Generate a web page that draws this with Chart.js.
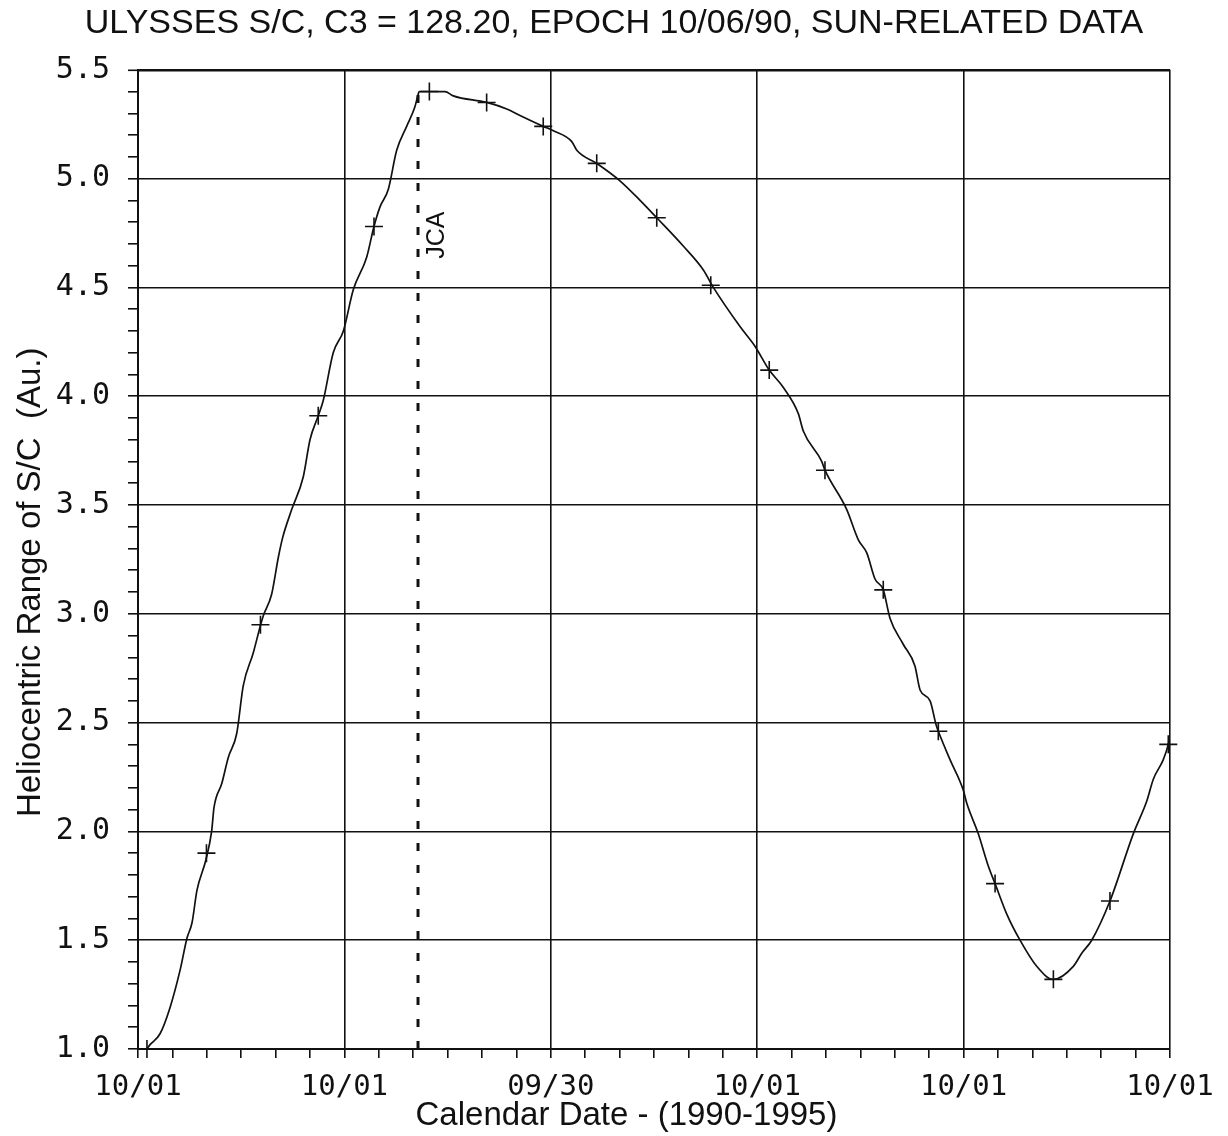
<!DOCTYPE html>
<html>
<head>
<meta charset="utf-8">
<script src="https://cdn.jsdelivr.net/npm/chart.js@4.4.1/dist/chart.umd.min.js"></script>
<style>
  html, body { margin: 0; padding: 0; background: #fff; }
  #wrap { width: 1228px; height: 1136px; }
</style>
</head>
<body>
<div id="wrap"><canvas id="c" width="1228" height="1136"></canvas></div>
<script>
// ---- Data (x = months since 10/01/90, y = heliocentric range in AU) ----
const curveMonths = [0.51,0.70,1.28,1.86,2.44,2.85,3.14,3.43,3.95,4.28,4.42,4.87,5.25,5.74,6.12,6.70,7.13,7.28,7.77,8.16,8.41,8.94,9.61,10.0,10.48,10.77,11.35,11.94,12.52,13.30,13.72,14.07,14.55,15.04,15.62,16.10,16.30,16.35,16.94,17.85,18.33,20.27,21.44,22.21,23.56,24.15,25.22,25.51,26.67,28.02,29.19,30.16,31.70,32.87,33.45,35.0,35.87,36.70,37.52,38.39,38.68,39.75,39.94,41.20,41.88,42.37,42.85,43.33,43.72,44.49,45.17,45.47,46.05,46.40,46.53,47.21,47.98,48.18,48.85,49.44,49.83,50.51,51.28,52.25,53.22,54.38,54.87,55.45,56.51,57.87,58.65,59.03,59.61,59.90,60.0];
const curveAU = [1.00,1.02,1.07,1.19,1.36,1.51,1.58,1.73,1.87,2.00,2.11,2.22,2.34,2.45,2.67,2.82,2.95,2.99,3.09,3.26,3.35,3.48,3.63,3.80,3.91,3.98,4.20,4.30,4.49,4.64,4.78,4.87,4.95,5.13,5.24,5.33,5.39,5.40,5.40,5.40,5.38,5.35,5.32,5.29,5.24,5.22,5.17,5.13,5.07,4.99,4.90,4.82,4.69,4.58,4.50,4.32,4.23,4.12,4.04,3.92,3.84,3.70,3.66,3.48,3.34,3.28,3.16,3.11,2.98,2.86,2.76,2.65,2.60,2.49,2.46,2.33,2.19,2.13,1.99,1.84,1.76,1.62,1.50,1.38,1.32,1.38,1.44,1.50,1.68,1.99,2.14,2.24,2.33,2.40,2.44];

const markerMonths = [0.52,3.98,7.12,10.48,13.72,16.94,20.27,23.56,26.67,30.16,33.30,36.70,39.94,43.33,46.53,49.83,53.22,56.51,59.90];
const markerAU     = [1.00,1.90,2.95,3.91,4.78,5.40,5.35,5.24,5.07,4.82,4.51,4.12,3.66,3.11,2.46,1.76,1.32,1.68,2.40];

const jcaMonth = 16.28;
const jcaSpanAU = [1.0, 5.44];
const jcaLabel = 'JCA';
const jcaLabelAU = 4.74;

const xTickMonths = [0, 12, 24, 36, 48, 60];
const xTickLabels = ['10/01', '10/01', '09/30', '10/01', '10/01', '10/01'];
const xMinorStep = 2;      // months between small tick marks
const yMinorStep = 0.1;    // AU between small tick marks
const yMin = 1.0, yMax = 5.5;

const titleText = 'ULYSSES S/C, C3 = 128.20, EPOCH 10/06/90, SUN-RELATED DATA';
const xTitle = 'Calendar Date - (1990-1995)';
const yTitle = 'Heliocentric Range of S/C  (Au.)';

// ---- Build ----
const curve = curveMonths.map((m, i) => ({ x: m, y: curveAU[i] }));
const markers = markerMonths.map((m, i) => ({ x: m, y: markerAU[i] }));
const jcaLine = jcaSpanAU.map(v => ({ x: jcaMonth, y: v }));

const INK = '#111';
const isYMajor = v => Math.abs(v * 2 - Math.round(v * 2)) < 1e-6;
const isXMajor = v => xTickMonths.some(t => Math.abs(t - v) < 1e-6);

const jcaPlugin = {
  id: 'jcaPlugin',
  afterDatasetsDraw(chart) {
    const { ctx, scales: { x, y } } = chart;
    const px = x.getPixelForValue(jcaMonth) + 19;
    const py = y.getPixelForValue(jcaLabelAU);
    ctx.save();
    ctx.translate(px, py);
    ctx.rotate(-Math.PI / 2);
    ctx.font = '25px "Liberation Sans", Arial, sans-serif';
    ctx.fillStyle = INK;
    ctx.textAlign = 'center';
    ctx.textBaseline = 'middle';
    ctx.fillText(jcaLabel, 0, 0);
    ctx.restore();
  }
};

Chart.defaults.color = INK;

new Chart(document.getElementById('c'), {
  type: 'line',
  data: {
    datasets: [
      {
        data: curve,
        borderColor: INK,
        borderWidth: 1.7,
        pointRadius: 0,
        cubicInterpolationMode: 'monotone',
        fill: false
      },
      {
        data: markers,
        showLine: false,
        pointStyle: 'cross',
        pointRadius: 9,
        pointBorderWidth: 1.6,
        pointBorderColor: INK,
        clip: false
      },
      {
        data: jcaLine,
        borderColor: INK,
        borderWidth: 3,
        borderDash: [8, 14],
        pointRadius: 0,
        fill: false
      }
    ]
  },
  options: {
    responsive: false,
    animation: false,
    parsing: true,
    layout: { padding: 0 },
    plugins: {
      legend: { display: false },
      tooltip: { enabled: false },
      title: {
        display: true,
        text: titleText,
        color: INK,
        font: { family: '"Liberation Sans", Arial, sans-serif', size: 34, weight: 'normal' },
        padding: { top: 3, bottom: 26 }
      }
    },
    scales: {
      x: {
        type: 'linear',
        position: 'bottom',
        min: 0,
        max: 60,
        afterBuildTicks(s) {
          const t = [];
          for (let m = 0; m <= 60 + 1e-9; m += xMinorStep) t.push({ value: m });
          s.ticks = t;
        },
        afterFit(s) { s.height = 87; },
        ticks: {
          autoSkip: false,
          maxRotation: 0,
          padding: 12,
          color: INK,
          font: { family: '"DejaVu Sans Mono", monospace', size: 29 },
          callback(v) {
            const i = xTickMonths.findIndex(t => Math.abs(t - v) < 1e-6);
            return i >= 0 ? xTickLabels[i] : '';
          }
        },
        grid: {
          color: c => (c.tick && isXMajor(c.tick.value)) ? INK : 'rgba(0,0,0,0)',
          lineWidth: 1.6,
          tickColor: INK,
          tickWidth: 1.6,
          tickLength: 9,
          drawTicks: true
        },
        border: { display: true, color: INK, width: 2 },
        title: {
          display: true,
          text: xTitle + '      ',
          color: INK,
          font: { family: '"Liberation Sans", Arial, sans-serif', size: 33 },
          padding: { top: 0, bottom: 0 }
        }
      },
      y: {
        type: 'linear',
        position: 'left',
        min: yMin,
        max: yMax,
        afterBuildTicks(s) {
          const t = [];
          const n = Math.round((yMax - yMin) / yMinorStep);
          for (let i = 0; i <= n; i++) t.push({ value: Math.round((yMin + i * yMinorStep) * 10) / 10 });
          s.ticks = t;
        },
        afterFit(s) { s.width = 138; },
        ticks: {
          autoSkip: false,
          padding: 18,
          color: INK,
          font: { family: '"DejaVu Sans Mono", monospace', size: 30 },
          callback(v) { return isYMajor(v) ? Number(v).toFixed(1) : ''; }
        },
        grid: {
          color: c => (c.tick && isYMajor(c.tick.value)) ? INK : 'rgba(0,0,0,0)',
          lineWidth: c => (c.tick && Math.abs(c.tick.value - yMax) < 1e-6) ? 2.6 : 1.6,
          tickColor: INK,
          tickWidth: 1.6,
          tickLength: 10,
          drawTicks: true
        },
        border: { display: true, color: INK, width: 2 },
        title: {
          display: true,
          text: yTitle + '     ',
          color: INK,
          font: { family: '"Liberation Sans", Arial, sans-serif', size: 33 },
          padding: { top: 11, bottom: 0 }
        }
      },
      yR: {
        type: 'linear',
        position: 'right',
        display: true,
        afterFit(s) { s.width = 58; },
        ticks: { display: false },
        grid: { display: false, drawTicks: false },
        border: { display: false }
      }
    }
  },
  plugins: [jcaPlugin]
});
</script>
</body>
</html>
